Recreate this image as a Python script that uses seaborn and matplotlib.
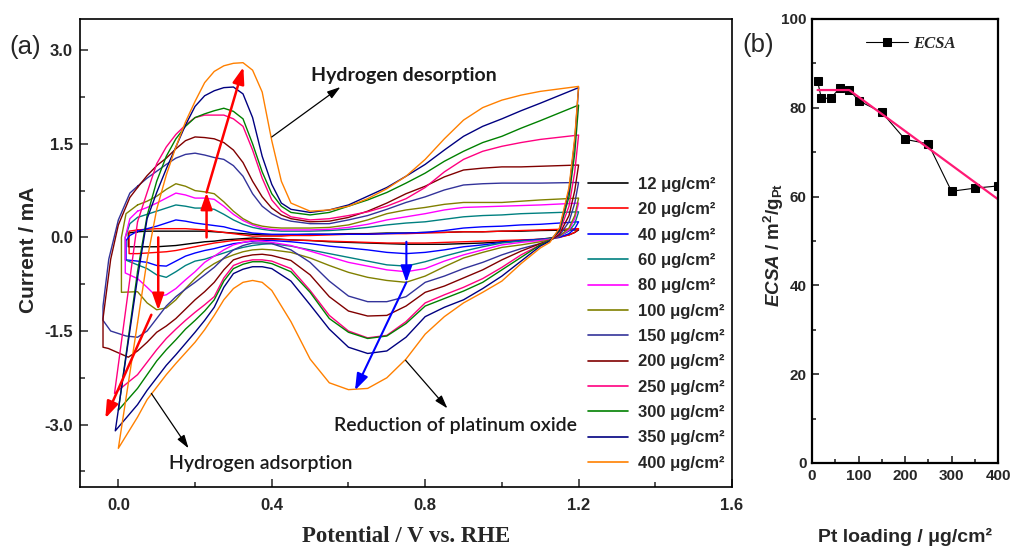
"""CV of Pt/C electrodes at different Pt loadings (a) and ECSA vs loading (b)"""
import numpy as np
import pandas as pd
import matplotlib
matplotlib.use("Agg")
import matplotlib.pyplot as plt
from matplotlib.lines import Line2D
from matplotlib.ticker import MultipleLocator
import seaborn as sns

# potential grids (V vs. RHE): anodic sweep up, cathodic sweep back down
E_UP = [0.05, 0.075, 0.10, 0.125, 0.15, 0.175, 0.20, 0.225, 0.25, 0.275, 0.30, 0.325, 0.35,
        0.375, 0.40, 0.425, 0.45, 0.50, 0.55, 0.60, 0.65, 0.70, 0.75, 0.80, 0.85, 0.90, 0.95,
        1.00, 1.05, 1.10, 1.20]
E_DOWN = [1.19, 1.175, 1.15, 1.125, 1.10, 1.05, 1.00, 0.95, 0.90, 0.85, 0.80, 0.75, 0.70, 0.65,
          0.60, 0.55, 0.50, 0.45, 0.40, 0.375, 0.35, 0.325, 0.30, 0.275, 0.25, 0.225, 0.20,
          0.175, 0.15, 0.125, 0.10, 0.075, 0.05]

LOADINGS = [12, 20, 40, 60, 80, 100, 150, 200, 250, 300, 350, 400]
COLORS = ["#000000", "#ff0000", "#0000ff", "#008080", "#ff00ff", "#808000",
          "#33339a", "#800000", "#ff0080", "#008000", "#000080", "#ff8000"]

# currents in mA (anodic branch, cathodic branch, hydrogen-region turning points)
i_up_12 = [0.09, 0.1, 0.1, 0.1, 0.1, 0.1, 0.1, 0.1, 0.09, 0.08, 0.07, 0.06, 0.05,
           0.04, 0.04, 0.04, 0.04, 0.05, 0.05, 0.06, 0.06, 0.07, 0.07, 0.08, 0.08, 0.09, 0.09,
           0.1, 0.1, 0.11, 0.12]
i_dn_12 = [0.08, 0.04, 0.01, -0.01, -0.03, -0.05, -0.07, -0.09, -0.1, -0.11, -0.11, -0.11, -0.1,
           -0.09, -0.08, -0.07, -0.05, -0.04, -0.02, -0.02, -0.01, -0.02, -0.03, -0.04, -0.06,
           -0.07, -0.09, -0.11, -0.13, -0.14, -0.15, -0.15, -0.15]
e_h_12 = [0.026, 0.026]
i_h_12 = [-0.15, 0.07]

i_up_20 = [0.12, 0.13, 0.14, 0.14, 0.14, 0.14, 0.13, 0.12, 0.1, 0.08, 0.06, 0.04, 0.02,
           0.02, 0.02, 0.02, 0.03, 0.03, 0.04, 0.05, 0.05, 0.06, 0.06, 0.07, 0.08, 0.09, 0.09,
           0.1, 0.11, 0.12, 0.14]
i_dn_20 = [0.08, 0.04, 0.0, -0.02, -0.03, -0.04, -0.05, -0.06, -0.07, -0.08, -0.09, -0.09, -0.09,
           -0.08, -0.07, -0.06, -0.05, -0.04, -0.03, -0.03, -0.03, -0.04, -0.05, -0.07, -0.09,
           -0.12, -0.15, -0.18, -0.21, -0.23, -0.24, -0.25, -0.26]
e_h_20 = [0.028, 0.028]
i_h_20 = [-0.26, 0.1]

i_up_40 = [0.1, 0.14, 0.18, 0.23, 0.28, 0.26, 0.23, 0.21, 0.19, 0.17, 0.13, 0.1, 0.07,
           0.06, 0.05, 0.05, 0.05, 0.05, 0.05, 0.05, 0.05, 0.06, 0.07, 0.08, 0.11, 0.15, 0.17,
           0.18, 0.2, 0.21, 0.25]
i_dn_40 = [0.14, 0.06, 0.0, -0.02, -0.03, -0.05, -0.08, -0.12, -0.15, -0.2, -0.24, -0.26, -0.24,
           -0.2, -0.17, -0.14, -0.1, -0.07, -0.05, -0.05, -0.06, -0.08, -0.1, -0.14, -0.18,
           -0.21, -0.25, -0.3, -0.38, -0.46, -0.45, -0.4, -0.38]
e_h_40 = [0.02, 0.02, 0.03]
i_h_40 = [-0.36, -0.05, 0.03]

i_up_60 = [0.32, 0.37, 0.42, 0.47, 0.52, 0.5, 0.47, 0.47, 0.45, 0.37, 0.28, 0.21, 0.16,
           0.13, 0.11, 0.1, 0.1, 0.1, 0.11, 0.13, 0.16, 0.2, 0.23, 0.25, 0.29, 0.33, 0.35,
           0.36, 0.38, 0.39, 0.41]
i_dn_60 = [0.22, 0.1, 0.02, -0.02, -0.04, -0.06, -0.09, -0.15, -0.22, -0.3, -0.39, -0.46, -0.44,
           -0.38, -0.32, -0.26, -0.2, -0.14, -0.1, -0.11, -0.13, -0.16, -0.2, -0.25, -0.3,
           -0.35, -0.38, -0.45, -0.55, -0.64, -0.6, -0.5, -0.44]
e_h_60 = [0.018, 0.018, 0.03]
i_h_60 = [-0.36, 0.0, 0.22]

i_up_80 = [0.42, 0.48, 0.55, 0.63, 0.71, 0.68, 0.63, 0.63, 0.61, 0.5, 0.37, 0.27, 0.2,
           0.15, 0.13, 0.12, 0.12, 0.12, 0.13, 0.16, 0.21, 0.28, 0.33, 0.38, 0.44, 0.48, 0.49,
           0.5, 0.51, 0.52, 0.55]
i_dn_80 = [0.3, 0.12, 0.02, -0.03, -0.05, -0.08, -0.12, -0.2, -0.28, -0.38, -0.5, -0.55, -0.52,
           -0.46, -0.4, -0.31, -0.22, -0.13, -0.08, -0.06, -0.05, -0.08, -0.12, -0.2, -0.3,
           -0.4, -0.55, -0.68, -0.82, -0.92, -0.95, -0.8, -0.66]
e_h_80 = [0.018, 0.018, 0.03]
i_h_80 = [-0.57, 0.0, 0.3]

i_up_100 = [0.52, 0.58, 0.66, 0.77, 0.86, 0.82, 0.75, 0.73, 0.7, 0.57, 0.42, 0.3, 0.22,
            0.18, 0.16, 0.15, 0.15, 0.15, 0.16, 0.2, 0.28, 0.38, 0.44, 0.48, 0.53, 0.56, 0.56,
            0.56, 0.58, 0.6, 0.63]
i_dn_100 = [0.35, 0.15, 0.02, -0.04, -0.07, -0.12, -0.16, -0.24, -0.33, -0.47, -0.62, -0.72, -0.69,
            -0.64, -0.56, -0.45, -0.33, -0.24, -0.2, -0.19, -0.2, -0.23, -0.28, -0.34, -0.42,
            -0.52, -0.66, -0.82, -1.0, -1.13, -1.16, -1.05, -0.87]
e_h_100 = [0.008, 0.008, 0.02]
i_h_100 = [-0.88, 0.0, 0.38]

i_up_150 = [0.82, 0.95, 1.06, 1.17, 1.27, 1.33, 1.35, 1.32, 1.28, 1.25, 1.15, 0.98, 0.7,
            0.5, 0.38, 0.3, 0.26, 0.22, 0.22, 0.28, 0.35, 0.45, 0.56, 0.65, 0.76, 0.84, 0.86,
            0.87, 0.87, 0.87, 0.88]
i_dn_150 = [0.55, 0.25, 0.03, -0.05, -0.1, -0.18, -0.28, -0.4, -0.5, -0.62, -0.72, -0.95, -1.03,
            -1.03, -0.94, -0.7, -0.4, -0.2, -0.1, -0.09, -0.09, -0.13, -0.2, -0.33, -0.48,
            -0.6, -0.72, -0.83, -0.95, -1.1, -1.3, -1.5, -1.6]
e_h_150 = [0.02, -0.02, -0.04, -0.04, -0.025, 0.0, 0.03]
i_h_150 = [-1.58, -1.5, -1.33, -1.1, -0.35, 0.28, 0.71]

i_up_200 = [0.8, 0.99, 1.15, 1.27, 1.42, 1.55, 1.61, 1.6, 1.58, 1.52, 1.4, 1.2, 0.9,
            0.65, 0.47, 0.36, 0.3, 0.25, 0.26, 0.32, 0.42, 0.55, 0.7, 0.82, 0.97, 1.08, 1.11,
            1.13, 1.13, 1.14, 1.16]
i_dn_200 = [0.75, 0.35, 0.05, -0.05, -0.1, -0.22, -0.36, -0.52, -0.65, -0.78, -0.88, -1.1, -1.25,
            -1.26, -1.18, -0.95, -0.6, -0.37, -0.29, -0.27, -0.28, -0.31, -0.36, -0.52, -0.72,
            -0.87, -1.0, -1.15, -1.3, -1.42, -1.52, -1.68, -1.82]
e_h_200 = [0.026, -0.026, -0.04, -0.04, -0.02, 0.0, 0.03]
i_h_200 = [-1.92, -1.78, -1.76, -1.3, -0.35, 0.2, 0.64]

i_up_250 = [0.25, 0.72, 1.18, 1.45, 1.65, 1.8, 1.92, 1.96, 1.96, 1.96, 1.9, 1.78, 1.4,
            0.95, 0.6, 0.42, 0.33, 0.28, 0.3, 0.35, 0.41, 0.5, 0.62, 0.8, 1.05, 1.25, 1.38,
            1.46, 1.52, 1.57, 1.64]
i_dn_250 = [1.05, 0.5, 0.08, -0.05, -0.12, -0.28, -0.48, -0.66, -0.8, -0.92, -1.05, -1.35, -1.57,
            -1.61, -1.5, -1.25, -0.85, -0.5, -0.38, -0.36, -0.36, -0.39, -0.45, -0.65, -0.95,
            -1.08, -1.2, -1.33, -1.47, -1.62, -1.8, -2.0, -2.2]
e_h_250 = [-0.01]
i_h_250 = [-2.5]

i_up_300 = [-0.55, 0.35, 0.9, 1.3, 1.58, 1.78, 1.92, 1.98, 2.03, 2.07, 2.02, 1.9, 1.5,
            1.05, 0.7, 0.5, 0.4, 0.36, 0.4, 0.5, 0.6, 0.72, 0.87, 1.03, 1.22, 1.38, 1.52,
            1.62, 1.75, 1.87, 2.12]
i_dn_300 = [1.35, 0.65, 0.1, -0.05, -0.12, -0.32, -0.52, -0.72, -0.86, -0.98, -1.1, -1.38, -1.58,
            -1.62, -1.52, -1.3, -0.88, -0.55, -0.42, -0.39, -0.39, -0.43, -0.5, -0.7, -1.0,
            -1.18, -1.33, -1.47, -1.64, -1.8, -1.98, -2.2, -2.42]
e_h_300 = [0.0]
i_h_300 = [-2.77]

i_up_350 = [-0.65, 0.3, 0.72, 1.1, 1.45, 1.8, 2.1, 2.27, 2.35, 2.4, 2.41, 2.3, 1.92,
            1.3, 0.85, 0.55, 0.45, 0.4, 0.44, 0.52, 0.66, 0.8, 0.98, 1.17, 1.4, 1.62, 1.78,
            1.9, 2.03, 2.15, 2.4]
i_dn_350 = [1.55, 0.75, 0.12, -0.06, -0.14, -0.38, -0.62, -0.82, -1.0, -1.12, -1.27, -1.6, -1.82,
            -1.86, -1.76, -1.47, -1.08, -0.7, -0.5, -0.47, -0.47, -0.51, -0.58, -0.8, -1.12,
            -1.33, -1.52, -1.7, -1.88, -2.05, -2.25, -2.45, -2.68]
e_h_350 = [-0.008]
i_h_350 = [-3.1]

i_up_400 = [-1.37, -0.36, 0.45, 1.0, 1.45, 1.85, 2.18, 2.48, 2.66, 2.75, 2.79, 2.8, 2.68,
            2.33, 1.55, 0.9, 0.55, 0.42, 0.44, 0.5, 0.62, 0.78, 0.98, 1.25, 1.58, 1.88, 2.08,
            2.2, 2.28, 2.34, 2.42]
i_dn_400 = [1.6, 0.8, 0.15, -0.08, -0.17, -0.42, -0.7, -0.88, -1.05, -1.27, -1.55, -1.95, -2.25,
            -2.42, -2.44, -2.33, -1.95, -1.35, -0.85, -0.72, -0.69, -0.72, -0.82, -1.0, -1.25,
            -1.48, -1.68, -1.85, -2.02, -2.2, -2.4, -2.6, -2.88]
e_h_400 = [0.0]
i_h_400 = [-3.38]

# panel (b)
PT_LOADING = [12, 20, 40, 60, 80, 100, 150, 200, 250, 300, 350, 400]
ECSA = [86.0, 82.2, 82.1, 84.5, 84.1, 81.6, 79.0, 72.9, 71.9, 61.2, 61.9, 62.4]
FIT_X = [12, 80, 400]
FIT_Y = [84.0, 84.0, 59.4]

curves = [
    (12, i_up_12, i_dn_12, e_h_12, i_h_12), (20, i_up_20, i_dn_20, e_h_20, i_h_20),
    (40, i_up_40, i_dn_40, e_h_40, i_h_40), (60, i_up_60, i_dn_60, e_h_60, i_h_60),
    (80, i_up_80, i_dn_80, e_h_80, i_h_80), (100, i_up_100, i_dn_100, e_h_100, i_h_100),
    (150, i_up_150, i_dn_150, e_h_150, i_h_150), (200, i_up_200, i_dn_200, e_h_200, i_h_200),
    (250, i_up_250, i_dn_250, e_h_250, i_h_250), (300, i_up_300, i_dn_300, e_h_300, i_h_300),
    (350, i_up_350, i_dn_350, e_h_350, i_h_350), (400, i_up_400, i_dn_400, e_h_400, i_h_400),
]
rows = []
for load, up, dn, eh, ih in curves:
    e = E_UP + E_DOWN + eh + E_UP[:1]
    i = up + dn + ih + up[:1]
    for k, (x, y) in enumerate(zip(e, i)):
        rows.append((f"{load} μg/cm²", k, x, y))
cv = pd.DataFrame(rows, columns=["loading", "step", "E", "I"])
labels = [f"{n} μg/cm²" for n in LOADINGS]

sns.set_theme(style="ticks")
plt.rcParams["font.family"] = ["Liberation Sans", "DejaVu Sans"]
plt.rcParams["axes.unicode_minus"] = False
plt.rcParams["mathtext.fontset"] = "custom"
plt.rcParams["mathtext.rm"] = "Liberation Sans:bold"
plt.rcParams["mathtext.it"] = "Liberation Sans:bold:italic"
plt.rcParams["mathtext.bf"] = "Liberation Sans:bold"

fig = plt.figure(figsize=(10.1, 5.5), dpi=100)
ax = fig.add_axes([80 / 1010, 1 - 487 / 550, 652 / 1010, 468 / 550])
axb = fig.add_axes([812 / 1010, 1 - 463 / 550, 186 / 1010, 444 / 550])

# ---- (a) cyclic voltammograms
sns.lineplot(data=cv, x="E", y="I", hue="loading", hue_order=labels,
             palette=dict(zip(labels, COLORS)), sort=False, estimator=None,
             lw=1.0, legend=False, ax=ax)

ax.set_xlim(-0.1, 1.6); ax.set_ylim(-4.0, 3.5)
ax.set_xticks([0, 0.4, 0.8, 1.2, 1.6]); ax.set_xticklabels(["0.0", "0.4", "0.8", "1.2", "1.6"])
ax.set_yticks([-3, -1.5, 0, 1.5, 3]); ax.set_yticklabels(["-3.0", "-1.5", "0.0", "1.5", "3.0"])
ax.xaxis.set_minor_locator(MultipleLocator(0.2)); ax.yaxis.set_minor_locator(MultipleLocator(0.75))
ax.set_xlabel(""); ax.set_ylabel("")
ax.tick_params(which="both", direction="in", top=False, right=False, width=1.1, labelsize=12)
ax.tick_params(which="major", length=6)
ax.tick_params(which="minor", length=3.5)
ax.tick_params(axis="x", pad=8); ax.tick_params(axis="y", pad=5)
for t in ax.get_xticklabels() + ax.get_yticklabels():
    t.set_fontweight("bold")
for s in ax.spines.values():
    s.set_linewidth(1.2); s.set_color("black")

def arrow(a, tail, head, color, lw, hl=1.0, hw=0.35):
    a.annotate("", xy=head, xytext=tail,
               arrowprops=dict(arrowstyle=f"-|>,head_length={hl},head_width={hw}",
                               color=color, lw=lw, shrinkA=0, shrinkB=0, mutation_scale=10))

arrow(ax, (0.23, 0.0), (0.23, 0.72), "red", 1.8)
arrow(ax, (0.23, 0.72), (0.326, 2.73), "red", 1.8)
arrow(ax, (0.104, 0.0), (0.104, -1.17), "red", 1.8)
arrow(ax, (0.086, -1.24), (-0.034, -2.9), "red", 1.8)
arrow(ax, (0.751, -0.07), (0.751, -0.72), "blue", 1.5)
arrow(ax, (0.751, -0.72), (0.617, -2.45), "blue", 1.5)
arrow(ax, (0.40, 1.61), (0.579, 2.41), "black", 0.9, 0.8, 0.25)
arrow(ax, (0.086, -2.5), (0.183, -3.38), "black", 0.9, 0.8, 0.25)
arrow(ax, (0.749, -1.97), (0.858, -2.74), "black", 0.9, 0.8, 0.25)

note = dict(family=["Lato", "DejaVu Sans"], fontsize=14, color="#1a1a1a", va="center", ha="left")
ax.text(0.503, 2.6, "Hydrogen desorption", fontweight="bold", **note)
ax.text(0.133, -3.62, "Hydrogen adsorption", fontweight="semibold", **note)
ax.text(0.561, -3.01, "Reduction of platinum oxide", fontweight="semibold", **note)

handles = [Line2D([], [], color=c, lw=1.2) for c in COLORS]
fig.legend(handles, labels, loc="upper left", bbox_to_anchor=(588 / 1010, 1 - 177 / 550),
           frameon=False, prop=dict(weight="bold", size=12), handlelength=2.4,
           handletextpad=0.6, labelspacing=0.62, borderpad=0, borderaxespad=0)

fig.text(9 / 1010, 1 - 47 / 550, "(a)", fontsize=18.5, va="center", ha="left")
fig.text(742 / 1010, 1 - 45 / 550, "(b)", fontsize=18.5, va="center", ha="left")
fig.text(28 / 1010, 1 - 250 / 550, "Current / mA", rotation=90, fontsize=15,
         fontweight="bold", ha="center", va="center")
fig.text(406 / 1010, 1 - 537 / 550, "Potential / V vs. RHE", family="Liberation Serif",
         fontsize=16.5, fontweight="bold", ha="center", va="center")

# ---- (b) ECSA vs Pt loading
sns.lineplot(x=PT_LOADING, y=ECSA, color="black", lw=0.8, marker="s", ms=5.5,
             mec="black", mfc="black", label="ECSA", ax=axb)
sns.lineplot(x=FIT_X, y=FIT_Y, color="#ff1a75", lw=1.6, ax=axb)
h, l = axb.get_legend_handles_labels()
axb.legend(h[:1], ["ECSA"], loc="upper left", bbox_to_anchor=(866 / 1010, 1 - 36 / 550),
           bbox_transform=fig.transFigure, frameon=False, handlelength=2.5, handletextpad=0.3,
           borderpad=0, borderaxespad=0,
           prop=dict(family="Liberation Serif", weight="bold", style="italic", size=12))

axb.set_xlim(0, 400); axb.set_ylim(0, 100)
axb.set_xticks([0, 100, 200, 300, 400]); axb.set_yticks([0, 20, 40, 60, 80, 100])
axb.xaxis.set_minor_locator(MultipleLocator(50)); axb.yaxis.set_minor_locator(MultipleLocator(10))
axb.set_xlabel(""); axb.set_ylabel("")
axb.tick_params(which="both", direction="in", top=False, right=False, width=1.2, labelsize=11, pad=4)
axb.tick_params(which="major", length=5)
axb.tick_params(which="minor", length=3)
for t in axb.get_xticklabels() + axb.get_yticklabels():
    t.set_fontweight("bold")
for s in axb.spines.values():
    s.set_linewidth(1.6); s.set_color("black")

fig.text(774 / 1010, 1 - 245 / 550, r"$ECSA$ / m$^2$/g$_{\rm Pt}$", rotation=90, fontsize=13.5,
         fontweight="bold", ha="center", va="center")
fig.text(905 / 1010, 1 - 537 / 550, "Pt loading / μg/cm²", fontsize=14,
         fontweight="bold", ha="center", va="center")

fig.savefig("out.png", dpi=100)
plt.close(fig)
